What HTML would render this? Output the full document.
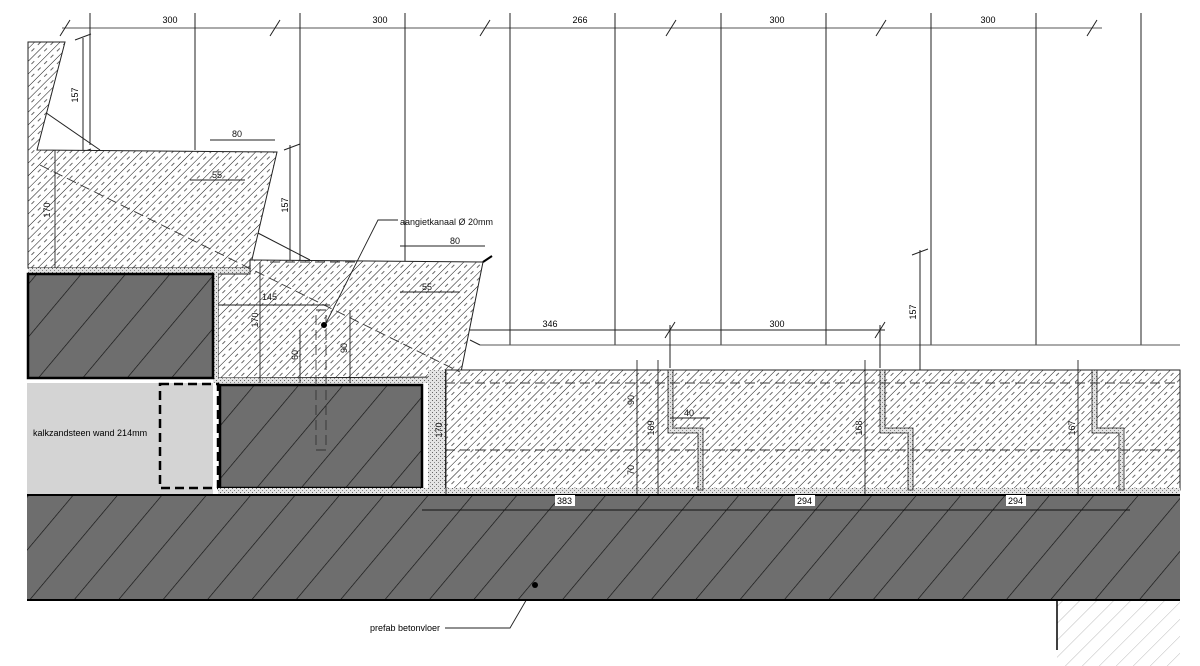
<!DOCTYPE html>
<html><head><meta charset="utf-8"><style>
html,body{margin:0;padding:0;background:#fff;}
svg{display:block;font-family:"Liberation Sans",sans-serif;}
</style></head><body>
<svg width="1200" height="666" viewBox="0 0 1200 666" xmlns="http://www.w3.org/2000/svg">
<defs>
<pattern id="h" width="9" height="9" patternUnits="userSpaceOnUse" patternTransform="rotate(45)">
<rect width="9" height="9" fill="#fff"/>
<line x1="0" y1="0" x2="0" y2="9" stroke="#111" stroke-width="1"/>
<line x1="4.5" y1="1" x2="4.5" y2="5" stroke="#555" stroke-width="0.9"/>
</pattern>
<pattern id="d" width="34" height="34" patternUnits="userSpaceOnUse" patternTransform="rotate(40)">
<rect width="34" height="34" fill="#6e6e6e"/>
<line x1="0" y1="0" x2="0" y2="34" stroke="#111" stroke-width="1.3"/>
</pattern>
<pattern id="g" width="4" height="4" patternUnits="userSpaceOnUse">
<rect width="4" height="4" fill="#e4e4e4"/>
<rect x="0" y="0" width="1" height="1" fill="#666"/>
<rect x="2" y="2" width="1" height="1" fill="#888"/>
</pattern>
<pattern id="lh" width="12" height="12" patternUnits="userSpaceOnUse" patternTransform="rotate(45)">
<rect width="12" height="12" fill="#fff"/>
<line x1="0" y1="0" x2="0" y2="12" stroke="#bbb" stroke-width="1"/>
</pattern>
</defs>

<g stroke="#222" stroke-width="1">
<line x1="62" y1="28" x2="1102" y2="28" stroke="#555"/>
<line x1="90" y1="13" x2="90" y2="145"/>
<line x1="195" y1="13" x2="195" y2="150"/>
<line x1="300" y1="13" x2="300" y2="260"/>
<line x1="405" y1="13" x2="405" y2="262"/>
<line x1="510" y1="13" x2="510" y2="345"/>
<line x1="615" y1="13" x2="615" y2="345"/>
<line x1="721" y1="13" x2="721" y2="345"/>
<line x1="826" y1="13" x2="826" y2="345"/>
<line x1="931" y1="13" x2="931" y2="345"/>
<line x1="1036" y1="13" x2="1036" y2="345"/>
<line x1="1141" y1="13" x2="1141" y2="345"/>
<line x1="480" y1="345" x2="1180" y2="345" stroke="#555"/>
<line x1="430" y1="330" x2="885" y2="330"/>
<line x1="670" y1="325" x2="670" y2="368"/>
<line x1="880" y1="325" x2="880" y2="368"/>
<line x1="920" y1="250" x2="920" y2="372"/>
<line x1="83" y1="38" x2="83" y2="150"/>
<line x1="290" y1="145" x2="290" y2="262"/>
<line x1="42" y1="110" x2="100" y2="150"/>
<line x1="256" y1="232" x2="310" y2="260"/>
<line x1="470" y1="340" x2="480" y2="345"/>
</g>
<g stroke="#222" stroke-width="1">
<path d="M60 36l10-16M270 36l10-16M480 36l10-16M666 36l10-16M876 36l10-16M1087 36l10-16"/>
<path d="M75 40l16-6M75 155l16-6M284 150l16-6M284 266l16-6M912 255l16-6M912 377l16-6"/>
<path d="M425 338l10-16M665 338l10-16M875 338l10-16"/>
</g>
<text x="170" y="23" font-size="9" text-anchor="middle">300</text>
<text x="380" y="23" font-size="9" text-anchor="middle">300</text>
<text x="580" y="23" font-size="9" text-anchor="middle">266</text>
<text x="777" y="23" font-size="9" text-anchor="middle">300</text>
<text x="988" y="23" font-size="9" text-anchor="middle">300</text>
<text x="550" y="327" font-size="9" text-anchor="middle">346</text>
<text x="777" y="327" font-size="9" text-anchor="middle">300</text>
<text transform="translate(78,95) rotate(-90)" font-size="9" text-anchor="middle">157</text>
<text transform="translate(288,205) rotate(-90)" font-size="9" text-anchor="middle">157</text>
<text transform="translate(916,312) rotate(-90)" font-size="9" text-anchor="middle">157</text>

<polygon points="28,42 65,42 37,150 277,152 250,268 28,268" fill="url(#h)" stroke="#222"/>
<rect x="28" y="268" width="222" height="6" fill="url(#g)"/>
<polygon points="218,274 250,274 250,260 483,262 460,377 218,378" fill="url(#h)" stroke="#222"/>
<rect x="213" y="268" width="5" height="115" fill="url(#g)"/>
<rect x="218" y="378" width="242" height="5" fill="url(#g)"/>
<rect x="28" y="274" width="185" height="104" fill="url(#d)" stroke="#000" stroke-width="2.5"/>
<rect x="27" y="383" width="186" height="111" fill="#d4d4d4"/>
<rect x="160" y="384" width="58" height="104" fill="none" stroke="#000" stroke-width="2.5" stroke-dasharray="9,5"/>
<text x="33" y="436" font-size="9" fill="#000">kalkzandsteen wand 214mm</text>
<rect x="220" y="385" width="202" height="103" fill="url(#d)" stroke="#000" stroke-width="2.5"/>
<rect x="445" y="370" width="735" height="120" fill="url(#h)" stroke="#222"/>
<rect x="428" y="370" width="17" height="124" fill="url(#g)"/>
<rect x="218" y="488" width="962" height="6" fill="url(#g)"/>
<g fill="url(#g)" stroke="#222" stroke-width="0.8">
<path d="M668 370h5v58h30v62h-5v-57h-30z"/>
<path d="M880 370h5v58h28v62h-5v-57h-28z"/>
<path d="M1092 370h5v58h27v62h-5v-57h-27z"/>
</g>
<g stroke="#333" stroke-dasharray="10,5" fill="none" stroke-width="0.9">
<line x1="445" y1="383" x2="1180" y2="383"/>
<line x1="445" y1="450" x2="1180" y2="450"/>
<line x1="40" y1="165" x2="460" y2="372"/>
<line x1="270" y1="262" x2="360" y2="262"/>
<rect x="316" y="310" width="10" height="140"/>
</g>
<g stroke="#222" stroke-width="0.9">
<line x1="637" y1="360" x2="637" y2="500"/>
<line x1="658" y1="360" x2="658" y2="494"/>
<line x1="865" y1="360" x2="865" y2="494"/>
<line x1="1078" y1="360" x2="1078" y2="494"/>
<line x1="446" y1="370" x2="446" y2="494"/>
<line x1="218" y1="305" x2="330" y2="305"/>
<line x1="260" y1="262" x2="260" y2="383"/>
<line x1="300" y1="330" x2="300" y2="383"/>
<line x1="350" y1="310" x2="350" y2="383"/>
<line x1="55" y1="150" x2="55" y2="268"/>
<line x1="400" y1="246" x2="485" y2="246"/>
<line x1="210" y1="140" x2="275" y2="140"/>
<line x1="190" y1="180" x2="245" y2="180"/>
<line x1="400" y1="292" x2="460" y2="292"/>
<line x1="670" y1="418" x2="710" y2="418"/>
<polyline points="325,325 378,220 398,220" fill="none"/>
<polyline points="445,628 510,628 535,585" fill="none"/>
</g>
<circle cx="324" cy="325" r="3" fill="#000"/>
<line x1="483" y1="262" x2="492" y2="256" stroke="#000" stroke-width="2"/>
<g font-size="9" fill="#111">
<text x="232" y="137">80</text><text x="450" y="244">80</text>
<text x="212" y="178">55</text><text x="422" y="290">55</text>
<text x="262" y="300">145</text><text x="684" y="416">40</text>
<text x="400" y="225">aangietkanaal Ø 20mm</text>
<text transform="translate(50,210) rotate(-90)" text-anchor="middle">170</text>
<text transform="translate(258,320) rotate(-90)" text-anchor="middle">170</text>
<text transform="translate(442,430) rotate(-90)" text-anchor="middle">170</text>
<text transform="translate(298,355) rotate(-90)" text-anchor="middle">60</text>
<text transform="translate(347,348) rotate(-90)" text-anchor="middle">90</text>
<text transform="translate(634,400) rotate(-90)" text-anchor="middle">90</text>
<text transform="translate(634,470) rotate(-90)" text-anchor="middle">70</text>
<text transform="translate(654,428) rotate(-90)" text-anchor="middle">169</text>
<text transform="translate(862,428) rotate(-90)" text-anchor="middle">168</text>
<text transform="translate(1075,428) rotate(-90)" text-anchor="middle">167</text>
</g>
<rect x="27" y="494" width="1153" height="106" fill="url(#d)"/>
<line x1="27" y1="495" x2="1180" y2="495" stroke="#000" stroke-width="2"/>
<line x1="27" y1="600" x2="1180" y2="600" stroke="#000" stroke-width="2"/>
<line x1="422" y1="510" x2="1130" y2="510" stroke="#111"/>
<circle cx="535" cy="585" r="3" fill="#000"/>
<g font-size="9"><rect x="555" y="495" width="20" height="11" fill="#fff"/><text x="557" y="504">383</text>
<rect x="795" y="495" width="20" height="11" fill="#fff"/><text x="797" y="504">294</text>
<rect x="1006" y="495" width="20" height="11" fill="#fff"/><text x="1008" y="504">294</text></g>
<rect x="1057" y="601" width="123" height="65" fill="url(#lh)"/>
<line x1="1057" y1="600" x2="1057" y2="650" stroke="#000" stroke-width="1.5"/>
<text x="370" y="631" font-size="9">prefab betonvloer</text>
</svg>
</body></html>
